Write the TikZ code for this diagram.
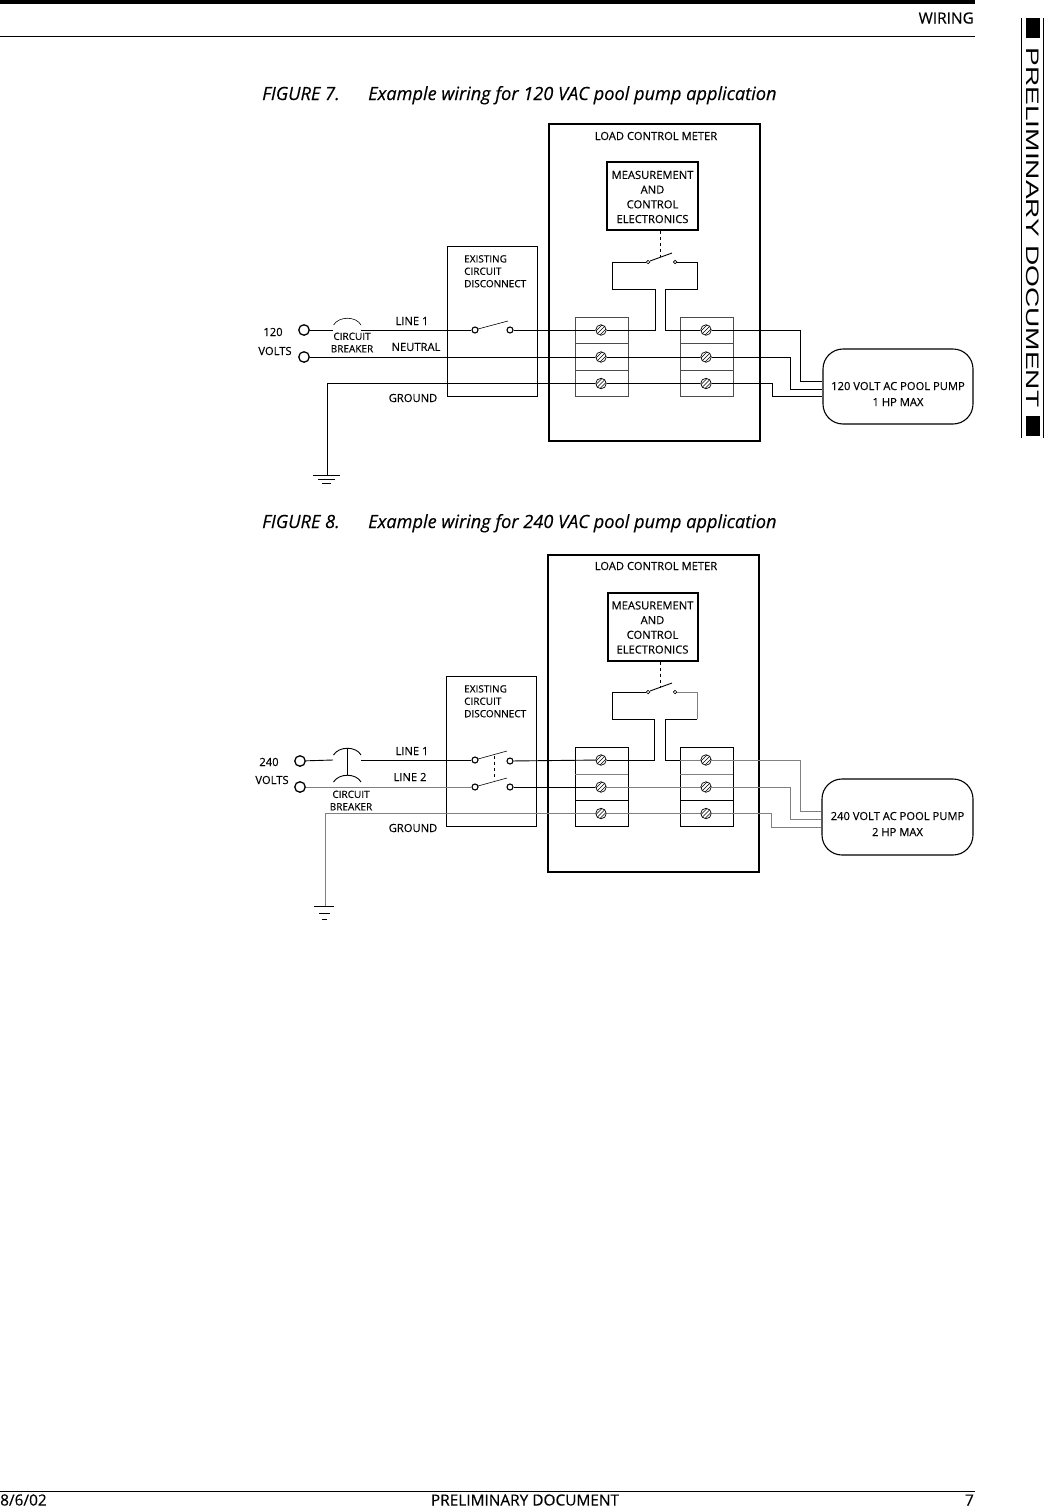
\documentclass[tikz,border=0pt]{standalone}
\usepackage{fontspec}
\setmainfont[FakeBold=0.25]{Open Sans}
\newfontfamily\sidefont[FakeStretch=1.55]{Liberation Sans}
\usepackage{tikz}
\usetikzlibrary{positioning}
\tikzset{wire/.style = {line width = 0.9pt}}
\tikzset{blade/.style = {line width = 0.6pt}}
\tikzset{wiregray/.style = {line width = 1pt, black!50}}
\tikzset{box/.style = {draw, line width = 1pt, inner sep = 0}}
\tikzset{meterbox/.style = {draw, line width = 1.2pt, inner sep = 0}}
\tikzset{txt/.style = {inner sep = 0, font = \fontsize{11.2}{14.7}\selectfont, align = center}}
\tikzset{smalltxt/.style = {inner sep = 0, font = \fontsize{10}{12.4}\selectfont, align = left}}
\tikzset{captxt/.style = {inner sep = 0, anchor = base west, font = \fontsize{18.2}{20}\selectfont\itshape}}
\tikzset{pagetxt/.style = {inner sep = 0, font = \fontsize{15.4}{16}\selectfont}}
\tikzset{term/.style = {draw, fill = white, circle, line width = 1.3pt, inner sep = 0, minimum size = 10.5}}
\tikzset{contact/.style = {draw, fill = white, circle, line width = 1.1pt, inner sep = 0, minimum size = 6}}
\tikzset{tiny/.style = {draw, fill = white, circle, line width = 0.7pt, inner sep = 0, minimum size = 3.5}}
\tikzset{screw/.style = {draw, fill = white, circle, line width = 0.7pt, inner sep = 0, minimum size = 10.5,
    path picture = {\foreach \d in {-4, -2, 0, 2, 4} {\draw [line width = 0.6pt] ([xshift=\d pt, yshift=-\d pt]path picture bounding box.south west) -- ([xshift=\d pt, yshift=-\d pt]path picture bounding box.north east);}}}}
\begin{document}
\begin{tikzpicture}[x=1pt, y=-1pt]
  \useasboundingbox (0, 0) rectangle (1044, 1507);

  \fill (0, 0) rectangle (975, 4);
  \draw [line width = 0.8pt] (0, 36) -- (975, 36);
  \draw [line width = 0.8pt] (0, 1491) -- (975, 1491);
  \node (head) [pagetxt, anchor = east] at (974, 18) {WIRING};
  \node (date) [pagetxt, anchor = west] at (0, 1500) {8/6/02};
  \node (foot) [pagetxt] at (525, 1500) {PRELIMINARY DOCUMENT};
  \node (page) [pagetxt, anchor = east] at (974, 1500) {7};

  \draw [line width = 0.8pt] (1021.5, 18) -- (1021.5, 438);
  \draw [line width = 0.8pt] (1043.3, 18) -- (1043.3, 438);
  \fill (1026, 18) rectangle (1039.5, 38);
  \fill (1026, 416) rectangle (1039.5, 436);
  \node (side) [inner sep = 0, rotate = -90, font = \fontsize{18.1}{22}\selectfont\sidefont] at (1032.8, 227.5) {PRELIMINARY DOCUMENT};

  \begin{scope}
    \node (cap1) [captxt] at (262, 100) {FIGURE 7.};
    \node (title1) [captxt] at (368, 100) {Example wiring for 120 VAC pool pump application};

    \draw [meterbox] (549, 124) rectangle (760, 441);
    \node (meter) [txt] at (656, 136) {LOAD CONTROL METER};
    \node (ctrl) [meterbox, minimum width = 91, minimum height = 68] at (652.5, 196) {};
    \node (ctrltxt) [txt] at (652.5, 197) {MEASUREMENT\\AND\\CONTROL\\ELECTRONICS};
    \draw [box] (447, 246) rectangle (537, 396);
    \node (disc) [smalltxt, anchor = north west] at (464, 255) {EXISTING\\CIRCUIT\\DISCONNECT};

    \draw [box, black!70] (575, 317) rectangle (628, 396);
    \draw [box, black!70] (575, 343) -- (628, 343) (575, 370) -- (628, 370);
    \draw [box, black!70] (680, 317) rectangle (733, 396);
    \draw [box, black!70] (680, 343) -- (733, 343) (680, 370) -- (733, 370);

    \node (pump) [draw, line width = 1.1pt, rounded corners = 20, minimum width = 150, minimum height = 75, inner sep = 0] at (898, 386.5) {};
    \node (pumptxt) [txt, font = \fontsize{11.2}{16}\selectfont] at (898, 394) {120 VOLT AC POOL PUMP\\1 HP MAX};

    \node (a1) [term] at (304, 330) {};
    \node (a2) [term] at (304, 357) {};
    \node (s1) [contact] at (475, 330) {};
    \node (s2) [contact] at (510, 330) {};
    \node (m1) [tiny] at (648, 262) {};
    \node (m2) [tiny] at (675, 262) {};
    \node (l1) [screw] at (601, 330) {};
    \node (l2) [screw] at (601, 357) {};
    \node (l3) [screw] at (601, 383.5) {};
    \node (r1) [screw] at (706, 330) {};
    \node (r2) [screw] at (706, 357) {};
    \node (r3) [screw] at (706, 383.5) {};
    \coordinate (bl) at (333, 330);
    \coordinate (br) at (361, 330);
    \coordinate (p1) at (pump.west |- 0, 381);
    \coordinate (p2) at (pump.west |- 0, 389);
    \coordinate (p3) at (pump.west |- 0, 396);
    \coordinate (gnd) at (327, 475);

    \draw [wire] (a1) -- (bl);
    \draw [blade] (333.5, 325) .. controls (339, 316) and (356, 316) .. (361, 325);
    \draw [wire] (br) -- (s1);
    \draw [blade] (s1) ++(3, -1) -- (508, 321);
    \draw [wire] (s2) -- (l1);
    \draw [wire] (a2) -- (l2);
    \draw [wire] (l2) -- (r2);
    \draw [wire] (gnd) |- (l3);
    \draw [wire] (l3) -- (r3);
    \draw [wire] (l1) -- (655, 330) -- (655, 289) -- (612, 289) -- (612, 262) -- (m1);
    \draw [wire] (m2) -- (697, 262) -- (697, 289) -- (665, 289) -- (665, 330) -- (r1);
    \draw [wire] (m1) ++(2, -1) -- (672, 253);
    \draw [wire, dashed] (ctrl.south -| 660, 0) -- (660, 257);
    \draw [wire] (r1) -- (800, 330) -- (800, 381) -- (p1);
    \draw [wire] (r2) -- (790, 357) -- (790, 389) -- (p2);
    \draw [wire] (r3) -- (772, 383.5) -- (772, 396) -- (p3);
    \draw [wire] (313, 475) -- (340, 475);
    \draw [wire] (318, 479) -- (335, 479);
    \draw [wire] (322, 483) -- (331, 483);

    \node (v1) [txt] at (273, 332) {120};
    \node (v2) [txt] at (275, 351) {VOLTS};
    \node (cb) [smalltxt, align = center] at (352, 342.5) {CIRCUIT\\BREAKER};
    \node (line1) [txt] at (412, 321) {LINE 1};
    \node (neut) [txt] at (416, 347) {NEUTRAL};
    \node (grd) [txt] at (413, 398) {GROUND};
  \end{scope}

  \begin{scope}
    \node (cap2) [captxt] at (262, 528) {FIGURE 8.};
    \node (title2) [captxt] at (368, 528) {Example wiring for 240 VAC pool pump application};

    \draw [meterbox] (548, 555) rectangle (759, 872);
    \node (meter) [txt] at (656, 566) {LOAD CONTROL METER};
    \node (ctrl) [meterbox, minimum width = 90, minimum height = 68] at (653, 627) {};
    \node (ctrltxt) [txt] at (652.5, 627.5) {MEASUREMENT\\AND\\CONTROL\\ELECTRONICS};
    \draw [box] (446.5, 676.5) rectangle (536, 826);
    \node (disc) [smalltxt, anchor = north west] at (464, 685) {EXISTING\\CIRCUIT\\DISCONNECT};

    \draw [box] (575, 747) rectangle (628, 826);
    \draw [wiregray] (575, 774) -- (628, 774);
    \draw [box] (575, 800) -- (628, 800);
    \draw [box] (680, 747) rectangle (733, 826);
    \draw [wiregray] (680, 774) -- (733, 774);
    \draw [box] (680, 800) -- (733, 800);

    \node (pump) [draw, line width = 1.1pt, rounded corners = 20, minimum width = 151, minimum height = 76, inner sep = 0] at (897.5, 817) {};
    \node (pumptxt) [txt, font = \fontsize{11.2}{16}\selectfont] at (897.5, 824) {240 VOLT AC POOL PUMP\\2 HP MAX};

    \node (a1) [term] at (300, 761) {};
    \node (a2) [term] at (300, 787) {};
    \node (s1) [contact] at (475, 760) {};
    \node (s2) [contact] at (510, 761) {};
    \node (s3) [contact] at (475, 787) {};
    \node (s4) [contact] at (510, 787) {};
    \node (m1) [tiny] at (648, 692) {};
    \node (m2) [tiny] at (675, 692) {};
    \node (l1) [screw] at (601, 760) {};
    \node (l2) [screw] at (601, 787) {};
    \node (l3) [screw] at (601, 813.5) {};
    \node (r1) [screw] at (706, 760) {};
    \node (r2) [screw] at (706, 787) {};
    \node (r3) [screw] at (706, 813.5) {};
    \coordinate (bl) at (333, 760);
    \coordinate (br) at (361, 760);
    \coordinate (p1) at (pump.west |- 0, 811);
    \coordinate (p2) at (pump.west |- 0, 819);
    \coordinate (p3) at (pump.west |- 0, 827);
    \coordinate (gnd) at (325, 906);

    \draw [wire] (a1) -- (bl);
    \draw [wire] (333.5, 755) .. controls (339, 746) and (356, 746) .. (361, 755);
    \draw [wire] (333.5, 782) .. controls (339, 773) and (356, 773) .. (361, 782);
    \draw [wire] (347, 748) -- (347, 775);
    \draw [wire] (br) -- (s1);
    \draw [wiregray] (a2) -- (s3);
    \draw [blade] (s1) ++(3, -1) -- (507, 751);
    \draw [blade] (s3) ++(3, -1) -- (507, 778);
    \draw [wire, dashed] (494, 756) -- (494, 780);
    \draw [wire] (s2) -- (l1);
    \draw [wire] (s4) -- (l2);
    \draw [wiregray] (gnd) |- (l3);
    \draw [wiregray] (l3) -- (r3);
    \draw [wiregray] (l2) -- (r2);
    \draw [wire] (l1) -- (654, 760) -- (654, 719) -- (612, 719) -- (612, 692) -- (m1);
    \draw [wiregray] (m2) -- (697, 692) -- (697, 719);
    \draw [wire] (697, 719) -- (665, 719) -- (665, 760) -- (680, 760);
    \draw [wiregray] (680, 760) -- (r1);
    \draw [wire] (m1) ++(2, -1) -- (672, 683);
    \draw [wire, dashed] (ctrl.south -| 660, 0) -- (660, 688);
    \draw [wiregray] (r1) -- (800, 760) -- (800, 811) -- (p1);
    \draw [wiregray] (r2) -- (790, 787) -- (790, 819) -- (p2);
    \draw [wiregray] (r3) -- (771, 813.5) -- (771, 827) -- (p3);
    \draw [wire] (314, 906) -- (334, 906);
    \draw [wire] (319, 913) -- (330, 913);
    \draw [wire] (322, 919) -- (327, 919);

    \node (v1) [txt] at (269, 762) {240};
    \node (v2) [txt] at (272, 780) {VOLTS};
    \node (cb) [smalltxt, align = center] at (351, 800.5) {CIRCUIT\\BREAKER};
    \node (line1) [txt] at (412, 751) {LINE 1};
    \node (line2) [txt] at (410, 777) {LINE 2};
    \node (grd) [txt] at (413, 828) {GROUND};
  \end{scope}
\end{tikzpicture}
\end{document}
